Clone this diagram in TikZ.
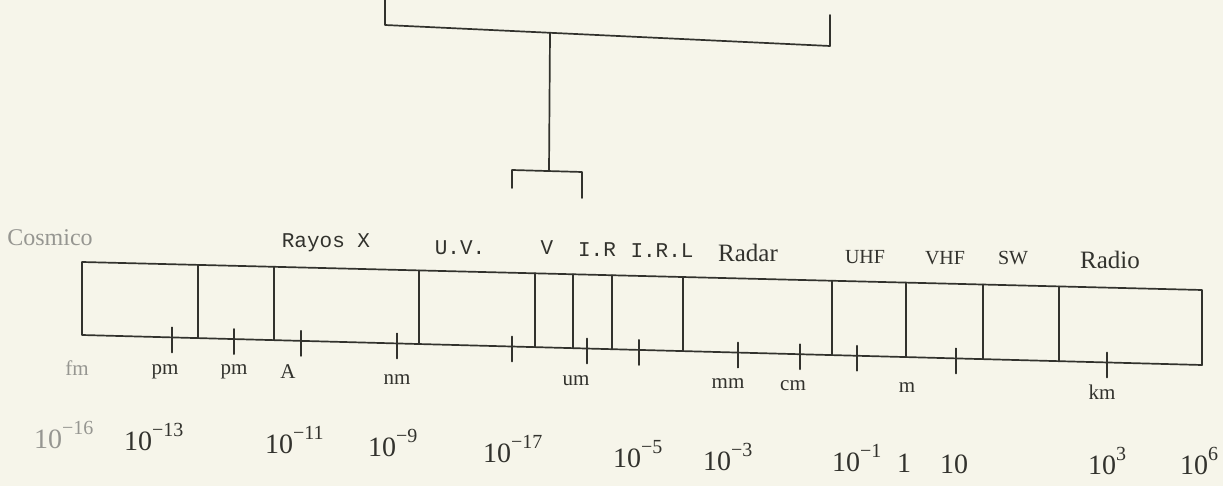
\documentclass[tikz,border=0pt]{standalone}
\usepackage{fontspec}
\setmainfont{Liberation Serif}
\newfontfamily\monof{Liberation Mono}
\newcommand{\pw}[1]{10\raisebox{0.5em}{\fontsize{20}{22}\selectfont #1}}
\begin{document}
\begin{tikzpicture}[x=1pt,y=-1pt,
  ln/.style={draw=ink, line width=1.7pt, line cap=round, line join=round},
  band/.style={font=\monof\fontsize{21}{24}\selectfont, text=ink, inner sep=0pt},
  unit/.style={font=\fontsize{21}{24}\selectfont, text=ink, inner sep=0pt},
  pow/.style={font=\fontsize{28}{32}\selectfont, text=ink, inner sep=0pt, anchor=base west}]
\definecolor{ink}{RGB}{50,50,45}
\definecolor{paper}{RGB}{246,245,234}
\definecolor{faded}{RGB}{150,150,145}
\fill[paper] (0,0) rectangle (1223,486);
\useasboundingbox (0,0) rectangle (1223,486);
% bracket
\coordinate (bl0) at (385,0);
\coordinate (bl1) at (385,25);
\coordinate (br1) at (830,46);
\coordinate (br0) at (830,15);
\coordinate (stemtop) at (550,33);
\coordinate (stembot) at (549,171);
\coordinate (sl1) at (512,170);
\coordinate (sl0) at (512,188);
\coordinate (sr1) at (582,172);
\coordinate (sr0) at (582,198);
\draw[ln] (bl0) -- (bl1) -- (br1) -- (br0);
\draw[ln] (stemtop) -- (stembot);
\draw[ln] (sl0) -- (sl1) -- (sr1) -- (sr0);
% bar
\coordinate (tl) at (82,262);
\coordinate (tr) at (1202,290);
\coordinate (blc) at (82,335);
\coordinate (brc) at (1202,365);
\draw[ln] (tl) -- (tr) -- (brc) -- (blc) -- cycle;
\foreach \x in {198,274,419,535,573,612,683,832,906,983,1059}
  \draw[ln] (\x,{262+0.025*(\x-82)}) -- (\x,{335+0.0268*(\x-82)});
\foreach \x in {172,234,301,397,512,587,639,738,800,857,956,1107}
  \draw[ln] (\x,{335+0.0268*(\x-82)-10}) -- (\x,{335+0.0268*(\x-82)+15});
% band labels
\node[band, text=faded, font=\fontsize{24}{26}\selectfont] (cos) at (50,238) {Cosmico};
\node[band] (rx) at (326,243) {Rayos X};
\node[band] (uv) at (460,248) {U.V.};
\node[band] (v) at (547,248) {V};
\node[band] (ir) at (597,250) {I.R};
\node[band] (irl) at (662,251) {I.R.L};
\node[band, font=\fontsize{25}{28}\selectfont] (radar) at (748,253) {Radar};
\node[band, font=\fontsize{20}{24}\selectfont] (uhf) at (865,257) {UHF};
\node[band, font=\fontsize{20}{24}\selectfont] (vhf) at (945,258) {VHF};
\node[band, font=\fontsize{20}{24}\selectfont] (sw) at (1013,258) {SW};
\node[band, font=\fontsize{25}{28}\selectfont] (radio) at (1110,260) {Radio};
% units
\node[unit, text=faded] (fm) at (77,368) {fm};
\node[unit] (pm1) at (165,372) {pm};
\node[unit] (pm2) at (234,372) {pm};
\node[unit] (ang) at (288,372) {A};
\node[unit] (nm) at (397,380) {nm};
\node[unit] (um) at (576,381) {um};
\node[unit] (mm) at (728,384) {mm};
\node[unit] (cm) at (793,386) {cm};
\node[unit] (m) at (907,388) {m};
\node[unit] (km) at (1102,392) {km};
% powers
\node[pow, text=faded] (p16) at (34,448) {\pw{−16}};
\node[pow] (p13) at (124,450) {\pw{−13}};
\node[pow] (p11) at (265,453) {\pw{−11}};
\node[pow] (p9) at (368,456) {\pw{−9}};
\node[pow] (p17) at (483,462) {\pw{−17}};
\node[pow] (p5) at (613,467) {\pw{−5}};
\node[pow] (p3) at (703,470) {\pw{−3}};
\node[pow] (p1) at (832,471) {\pw{−1}};
\node[pow] (one) at (897,472) {1};
\node[pow] (ten) at (940,473) {10};
\node[pow] (k3) at (1088,474) {\pw{3}};
\node[pow] (k6) at (1180,474) {\pw{6}};
\end{tikzpicture}
\end{document}
